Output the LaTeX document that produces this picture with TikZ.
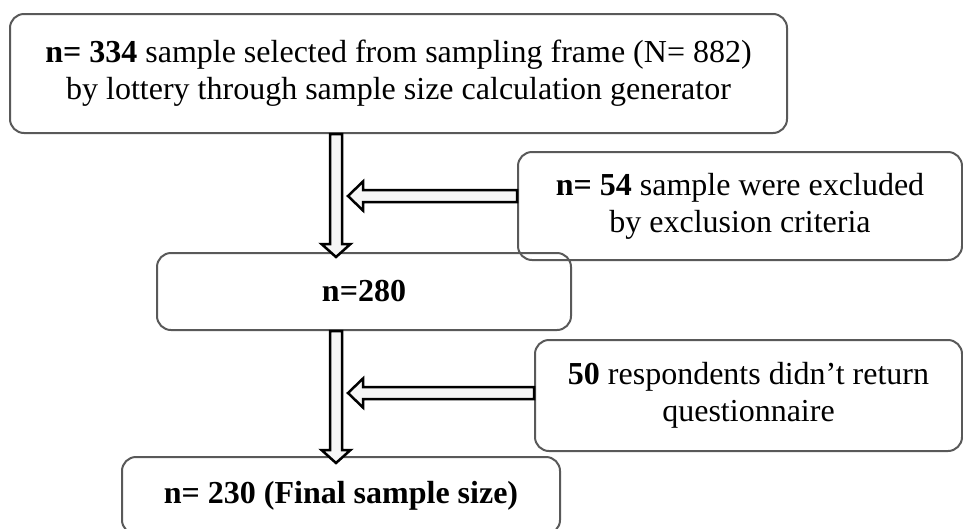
\documentclass[tikz,border=0pt]{standalone}
\usepackage{fontspec}
\setmainfont{Liberation Serif}
\usepackage{xcolor}
\usetikzlibrary{calc}

\definecolor{boxgray}{RGB}{89,89,89}
\definecolor{arrowfill}{RGB}{246,246,246}

\tikzset{
  box/.style={draw=boxgray, line width=2pt, rounded corners=14pt, align=center,
    font=\fontsize{32}{37}\selectfont},
  blockarrow/.style={draw=black, fill=arrowfill, line width=2.5pt, line join=miter}
}

% hollow block arrows, down and to the left
\newcommand{\downblock}[2]{%
  \draw[blockarrow] let \p1=(#1), \p2=(#2) in
    (\x1-6pt,\y1) -- (\x1-6pt,\y2+13pt) -- (\x1-14.5pt,\y2+13pt) -- (\x1,\y2)
    -- (\x1+14.5pt,\y2+13pt) -- (\x1+6pt,\y2+13pt) -- (\x1+6pt,\y1) -- cycle;}
\newcommand{\leftblock}[2]{%
  \draw[blockarrow] let \p1=(#1), \p2=(#2) in
    (\x1,\y1+6pt) -- (\x2+15pt,\y1+6pt) -- (\x2+15pt,\y1+14.5pt) -- (\x2,\y1)
    -- (\x2+15pt,\y1-14.5pt) -- (\x2+15pt,\y1-6pt) -- (\x1,\y1-6pt) -- cycle;}

\begin{document}
\begin{tikzpicture}[x=1pt,y=-1pt]
\useasboundingbox (0,0) rectangle (963,528);
\clip (0,0) rectangle (963,528);

\node[box, minimum width=777pt, minimum height=119pt] (frame) at (398.5,73.5)
  {\textbf{n= 334} sample selected from sampling frame (N= 882)\\by lottery through sample size calculation generator};
\node[box, minimum width=444pt, minimum height=108pt] (excluded) at (740,206)
  {\textbf{n= 54} sample were excluded\\by exclusion criteria};
\node[box, minimum width=414pt, minimum height=77pt] (remaining) at (364,291.5)
  {\textbf{n=280}};
\node[box, minimum width=427pt, minimum height=111pt] (noreturn) at (748.5,395.5)
  {\textbf{50} respondents didn’t return\\questionnaire};
\node[box, minimum width=438pt, minimum height=77pt] (final) at (341,495.5)
  {\textbf{n= 230 (Final sample size)}};

\coordinate (col) at (336,0);
\coordinate (tipx) at (348,0);
\coordinate (row1) at (0,196);
\coordinate (row2) at (0,393);

\downblock{frame.south -| col}{$(remaining.north -| col)+(0,5)$}
\leftblock{excluded.west |- row1}{tipx |- row1}

\downblock{remaining.south -| col}{$(final.north -| col)+(0,7)$}
\leftblock{noreturn.west |- row2}{tipx |- row2}

\end{tikzpicture}
\end{document}
